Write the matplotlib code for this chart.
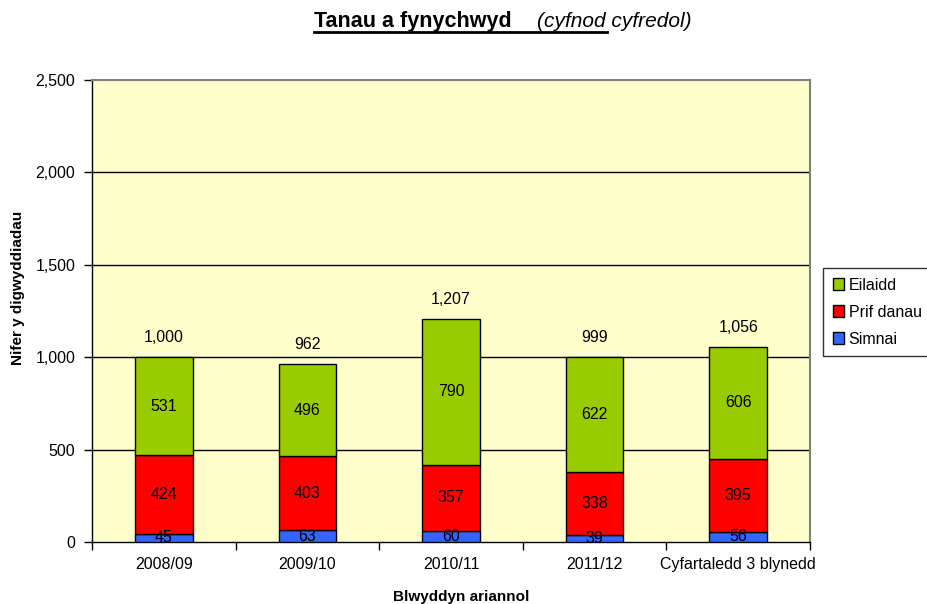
import matplotlib
matplotlib.use("Agg")
import matplotlib.pyplot as plt
from matplotlib.lines import Line2D
import numpy as np

plt.rcParams['font.family'] = ['Liberation Sans', 'DejaVu Sans']

categories = ["2008/09", "2009/10", "2010/11", "2011/12", "Cyfartaledd 3 blynedd"]
simnai = [45, 63, 60, 39, 56]
prif_danau = [424, 403, 357, 338, 395]
eilaidd = [531, 496, 790, 622, 606]
totals = [1000, 962, 1207, 999, 1056]
yticks = [0, 500, 1000, 1500, 2000, 2500]

fig = plt.figure(figsize=(9.27, 6.04), dpi=100)
ax = fig.add_axes([92/927, 1-542/604, (810-92)/927, (542-80)/604])
ax.set_facecolor('#FFFFCC')

x = np.arange(len(categories))
w = 0.4
fs = 11.5
series = [("Simnai", simnai, '#3366FF'), ("Prif danau", prif_danau, '#FF0000'), ("Eilaidd", eilaidd, '#99CC00')]
bottom = np.zeros(len(categories))
handles = []
for name, vals, col in series:
    vals = np.array(vals)
    bars = ax.bar(x, vals, w, bottom=bottom, color=col, edgecolor='black', linewidth=1.0, label=name, zorder=3)
    for xi, b, v in zip(x, bottom, vals):
        ax.text(xi, b + v/2, f"{v:,}", ha='center', va='center', fontsize=fs, zorder=4)
    handles.append(bars)
    bottom = bottom + vals

for xi, t in zip(x, totals):
    ax.annotate(f"{t:,}", (xi, t), xytext=(0, 14), textcoords='offset points',
                ha='center', va='center', fontsize=fs)

ax.set_xlim(-0.5, len(categories)-0.5)
ax.set_ylim(0, 2500)
ax.set_yticks(yticks)
ax.set_yticklabels([f"{v:,}" for v in yticks], fontsize=fs)
for v in yticks[1:-1]:
    ax.axhline(v, color='black', linewidth=1.0, zorder=1)

ax.set_xticks(x)
ax.set_xticklabels(categories, fontsize=fs)
ax.set_xticks(np.arange(-0.5, len(categories), 1.0), minor=True)
ax.tick_params(axis='x', which='major', length=0, pad=11)
ax.tick_params(axis='x', which='minor', length=6, width=1, direction='out')
ax.tick_params(axis='y', length=6, width=1, direction='out', pad=6)

for s in ['top', 'right']:
    ax.spines[s].set_color('#808080')
    ax.spines[s].set_linewidth(1.5)
for s in ['left', 'bottom']:
    ax.spines[s].set_color('black')
    ax.spines[s].set_linewidth(1.0)

leg = ax.legend(handles=handles[::-1], labels=["Eilaidd", "Prif danau", "Simnai"],
                loc='upper left', bbox_to_anchor=(823/927, 1-268/604), bbox_transform=fig.transFigure,
                fontsize=fs, frameon=True, fancybox=False, edgecolor='black',
                handlelength=0.7, handleheight=0.7, handletextpad=0.3, labelspacing=0.75,
                borderpad=0.6, borderaxespad=0)
leg.get_frame().set_linewidth(1.0)

fig.text(18/927, 1-288/604, "Nifer y digwyddiadau", rotation=90, ha='center', va='center',
         fontsize=11, fontweight='bold')
fig.text(461/927, 1-601/604, "Blwyddyn ariannol", ha='center', va='baseline',
         fontsize=11, fontweight='bold')

fig.text(314/927, 1-27/604, "Tanau a fynychwyd", ha='left', va='baseline',
         fontsize=15.5, fontweight='bold')
fig.text(537/927, 1-27/604, "(cyfnod cyfredol)", ha='left', va='baseline',
         fontsize=15, fontstyle='italic')
fig.add_artist(Line2D([314/927, 607/927], [1-32/604, 1-32/604], color='black', linewidth=2,
                      transform=fig.transFigure))

fig.savefig("out.png", dpi=100)
